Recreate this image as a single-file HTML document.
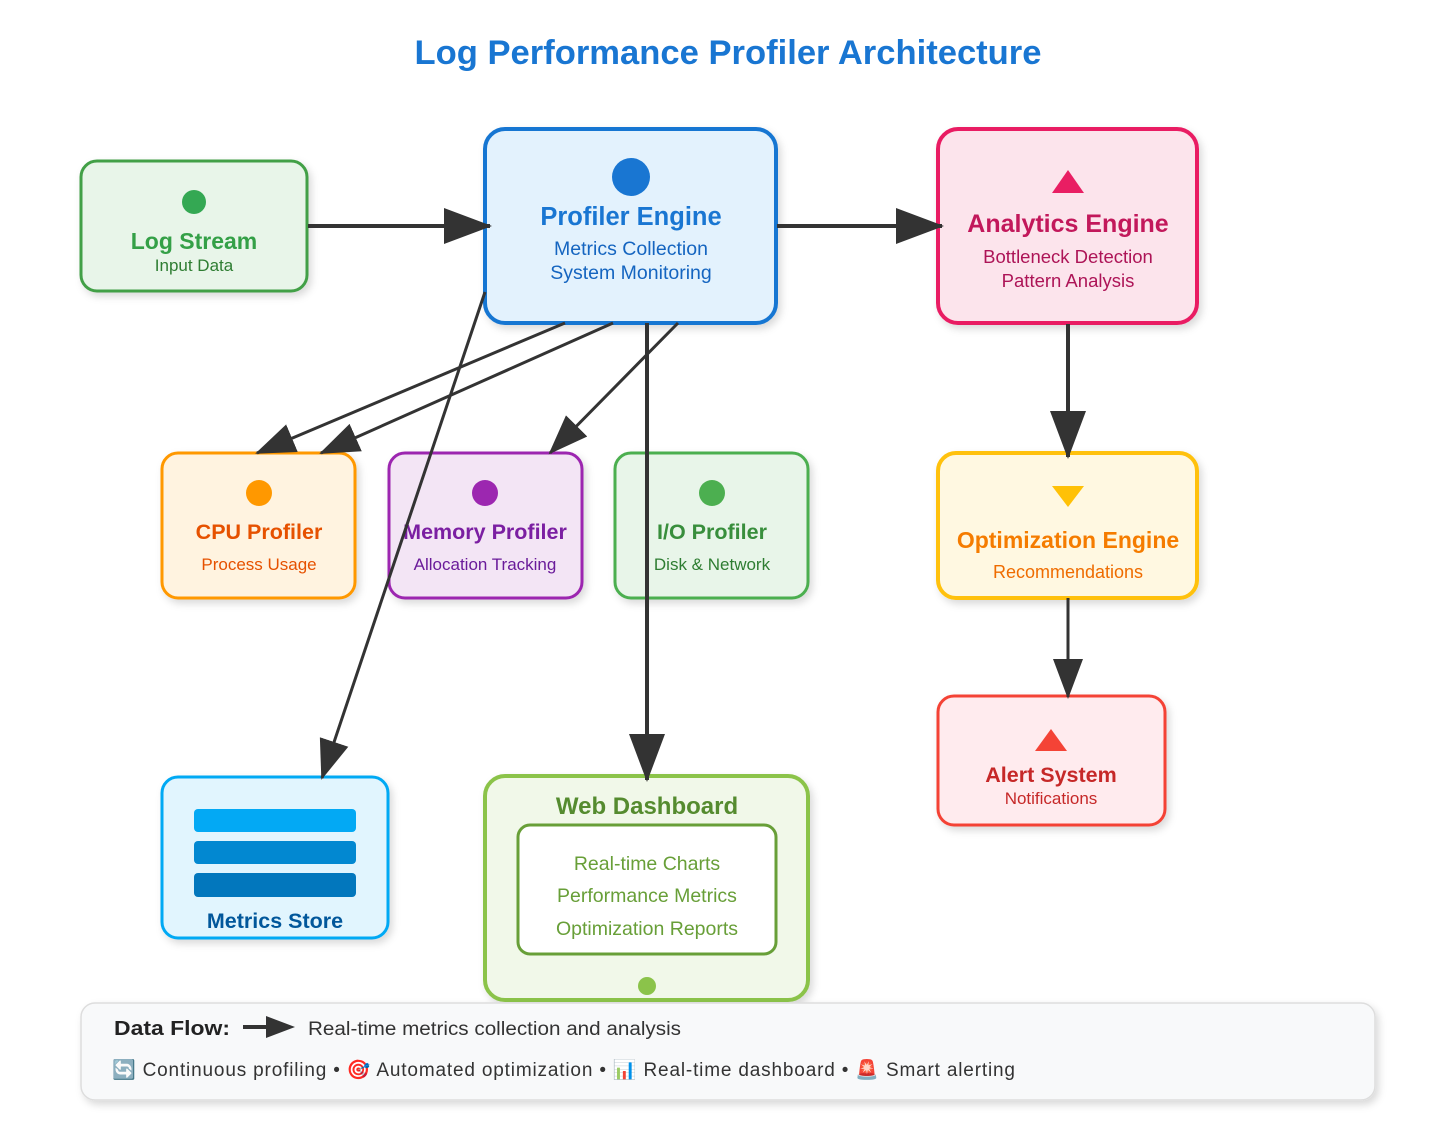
<!DOCTYPE html>
<html><head><meta charset="utf-8"><style>
body{margin:0;background:#fff}
svg text{font-family:"Liberation Sans",sans-serif}
</style></head><body>
<svg width="1456" height="1132" viewBox="0 0 1456 1132" xmlns="http://www.w3.org/2000/svg">
<defs>
<marker id="a" markerUnits="userSpaceOnUse" markerWidth="50" markerHeight="36" refX="46" refY="18" orient="auto"><path d="M0,0 L48,18 L0,36 Z" fill="#333"/></marker>
<marker id="b" markerUnits="userSpaceOnUse" markerWidth="40" markerHeight="30" refX="38" refY="15" orient="auto"><path d="M0,0 L40,15 L0,30 Z" fill="#333"/></marker>
<filter id="s" x="-10%" y="-10%" width="130%" height="130%"><feDropShadow dx="3" dy="4" stdDeviation="4" flood-opacity="0.15"/></filter>
</defs>
<text x="728" y="64" text-anchor="middle" font-size="34" font-weight="bold" fill="#1976d2" textLength="627" lengthAdjust="spacingAndGlyphs">Log Performance Profiler Architecture</text>

<g filter="url(#s)">
<rect x="81" y="161" width="226" height="130" rx="16" fill="#e8f5e9" stroke="#43a047" stroke-width="3"/>
<rect x="485" y="129" width="291" height="194" rx="20" fill="#e3f2fd" stroke="#1976d2" stroke-width="4"/>
<rect x="938" y="129" width="259" height="194" rx="20" fill="#fce4ec" stroke="#e91e63" stroke-width="4"/>
<rect x="162" y="453" width="193" height="145" rx="16" fill="#fff3e0" stroke="#ff9800" stroke-width="3"/>
<rect x="389" y="453" width="193" height="145" rx="16" fill="#f3e5f5" stroke="#9c27b0" stroke-width="3"/>
<rect x="615" y="453" width="193" height="145" rx="16" fill="#e8f5e9" stroke="#4caf50" stroke-width="3"/>
<rect x="938" y="453" width="259" height="145" rx="18" fill="#fff8e1" stroke="#ffc107" stroke-width="4"/>
<rect x="938" y="696" width="227" height="129" rx="16" fill="#ffebee" stroke="#f44336" stroke-width="3"/>
<rect x="162" y="777" width="226" height="161" rx="16" fill="#e1f5fe" stroke="#03a9f4" stroke-width="3"/>
<rect x="485" y="776" width="323" height="224" rx="20" fill="#f1f8e9" stroke="#8bc34a" stroke-width="4"/>
</g>
<rect x="81" y="1003" width="1294" height="97" rx="14" fill="#f8f9fa" stroke="#dddddd" stroke-width="1.5" filter="url(#s)"/>

<circle cx="194" cy="202" r="12" fill="#34a853"/>
<text x="194" y="249" text-anchor="middle" font-size="23" font-weight="bold" fill="#34a047">Log Stream</text>
<text x="194" y="271" text-anchor="middle" font-size="17" fill="#2e7d32">Input Data</text>

<circle cx="631" cy="177" r="19" fill="#1976d2"/>
<text x="631" y="225" text-anchor="middle" font-size="25.5" font-weight="bold" fill="#1976d2">Profiler Engine</text>
<text x="631" y="255" text-anchor="middle" font-size="19.5" fill="#1565c0">Metrics Collection</text>
<text x="631" y="279" text-anchor="middle" font-size="19.5" fill="#1565c0">System Monitoring</text>

<path d="M1068,170 L1084,193 L1052,193 Z" fill="#e91e63"/>
<text x="1068" y="232" text-anchor="middle" font-size="25" font-weight="bold" fill="#c2185b">Analytics Engine</text>
<text x="1068" y="263" text-anchor="middle" font-size="18.5" fill="#ad1457">Bottleneck Detection</text>
<text x="1068" y="287" text-anchor="middle" font-size="18.5" fill="#ad1457">Pattern Analysis</text>

<circle cx="259" cy="493" r="13" fill="#ff9800"/>
<text x="259" y="539" text-anchor="middle" font-size="21.5" font-weight="bold" fill="#e65100">CPU Profiler</text>
<text x="259" y="570" text-anchor="middle" font-size="17" fill="#e65100">Process Usage</text>
<circle cx="485" cy="493" r="13" fill="#9c27b0"/>
<text x="485" y="539" text-anchor="middle" font-size="21.5" font-weight="bold" fill="#7b1fa2">Memory Profiler</text>
<text x="485" y="570" text-anchor="middle" font-size="17" fill="#6a1b9a">Allocation Tracking</text>
<circle cx="712" cy="493" r="13" fill="#4caf50"/>
<text x="712" y="539" text-anchor="middle" font-size="21.5" font-weight="bold" fill="#388e3c">I/O Profiler</text>
<text x="712" y="570" text-anchor="middle" font-size="17" fill="#2e7d32">Disk &amp; Network</text>

<path d="M1052,486 L1084,486 L1068,507 Z" fill="#ffc107"/>
<text x="1068" y="548" text-anchor="middle" font-size="23" font-weight="bold" fill="#f57c00">Optimization Engine</text>
<text x="1068" y="578" text-anchor="middle" font-size="18" fill="#ef6c00">Recommendations</text>

<path d="M1051,729 L1067,751 L1035,751 Z" fill="#f44336"/>
<text x="1051" y="782" text-anchor="middle" font-size="21.5" font-weight="bold" fill="#c62828">Alert System</text>
<text x="1051" y="804" text-anchor="middle" font-size="17" fill="#c62828">Notifications</text>

<rect x="194" y="809" width="162" height="23" rx="4" fill="#03a9f4"/>
<rect x="194" y="841" width="162" height="23" rx="4" fill="#0288d1"/>
<rect x="194" y="873" width="162" height="24" rx="4" fill="#0277bd"/>
<text x="275" y="928" text-anchor="middle" font-size="21.5" font-weight="bold" fill="#01579b">Metrics Store</text>

<text x="647" y="814" text-anchor="middle" font-size="24" font-weight="bold" fill="#558b2f">Web Dashboard</text>
<rect x="518" y="825" width="258" height="129" rx="12" fill="#fff" stroke="#689f38" stroke-width="3"/>
<text x="647" y="870" text-anchor="middle" font-size="19.5" fill="#689f38">Real-time Charts</text>
<text x="647" y="902" text-anchor="middle" font-size="19.5" fill="#689f38">Performance Metrics</text>
<text x="647" y="935" text-anchor="middle" font-size="19.5" fill="#689f38">Optimization Reports</text>
<circle cx="647" cy="986" r="9" fill="#8bc34a"/>

<g stroke="#333" stroke-width="4" fill="none">
<line x1="308" y1="226" x2="490" y2="226" marker-end="url(#a)"/>
<line x1="777" y1="226" x2="942" y2="226" marker-end="url(#a)"/>
<line x1="1068" y1="324" x2="1068" y2="457" marker-end="url(#a)"/>
<line x1="1068" y1="598" x2="1068" y2="697" stroke-width="3" marker-end="url(#b)"/>
<line x1="647" y1="323" x2="647" y2="780" marker-end="url(#a)"/>
<line x1="565" y1="323" x2="257" y2="453" stroke-width="3" marker-end="url(#b)"/>
<line x1="613" y1="323" x2="321" y2="453" stroke-width="3" marker-end="url(#b)"/>
<line x1="678" y1="323" x2="550" y2="453" stroke-width="3" marker-end="url(#b)"/>
<line x1="485" y1="292" x2="322" y2="778" stroke-width="3" marker-end="url(#b)"/>
</g>

<text x="114" y="1035" font-size="20" font-weight="bold" fill="#222" textLength="116" lengthAdjust="spacingAndGlyphs">Data Flow:</text>
<line x1="243" y1="1027" x2="268" y2="1027" stroke="#333" stroke-width="4"/>
<path d="M266,1016 L295,1027 L266,1038 Z" fill="#333"/>
<text x="308" y="1035" font-size="19" fill="#333" textLength="373" lengthAdjust="spacingAndGlyphs">Real-time metrics collection and analysis</text>
<text x="112" y="1076" font-size="19" fill="#333" textLength="903" lengthAdjust="spacing">🔄 Continuous profiling • 🎯 Automated optimization • 📊 Real-time dashboard • 🚨 Smart alerting</text>
</svg>
</body></html>
